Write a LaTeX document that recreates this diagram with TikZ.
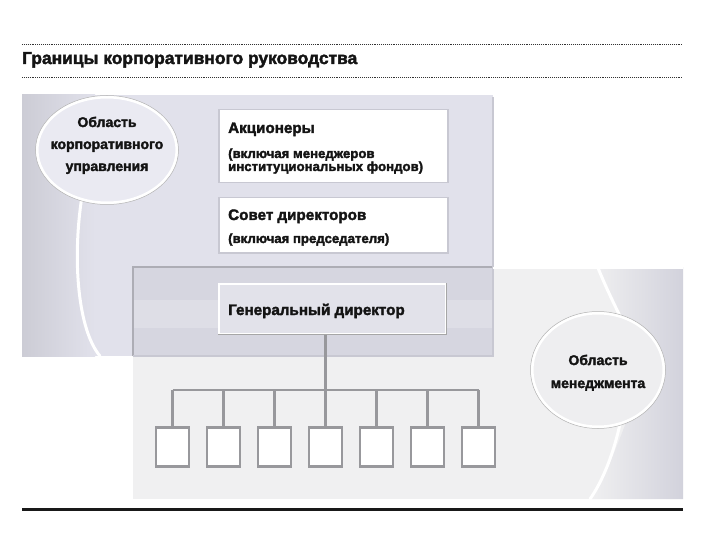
\documentclass[tikz,border=0pt]{standalone}
\usepackage{fontspec}
\setmainfont{Liberation Sans}
\newfontfamily\heavy{Liberation Sans}[FakeBold=2.2]
\usetikzlibrary{calc,shapes.geometric}
\definecolor{upperc}{RGB}{225,225,235}
\definecolor{upperdark}{RGB}{204,204,213}
\definecolor{lowerc}{RGB}{240,240,241}
\definecolor{lowerdark}{RGB}{210,210,220}
\definecolor{overc}{RGB}{214,214,224}
\definecolor{overlight}{RGB}{222,222,230}
\definecolor{ceoc}{RGB}{226,226,234}
\definecolor{ellc}{RGB}{234,234,242}
\definecolor{ell2c}{RGB}{238,238,240}
\definecolor{linec}{RGB}{152,152,156}
\definecolor{boxline}{RGB}{200,200,210}
\definecolor{txt}{RGB}{20,20,20}
\tikzset{
  whitebox/.style={draw=boxline, line width=1.5pt, fill=white, minimum width=229pt, anchor=north west, inner sep=0pt},
  txtbold/.style={font=\heavy\bfseries\fontsize{15.2}{16}\selectfont, text=txt, anchor=base west, inner sep=0pt},
  txtsmall/.style={font=\heavy\bfseries\fontsize{13.2}{13}\selectfont, text=txt, anchor=base west, inner sep=0pt},
  elltxt/.style={font=\heavy\bfseries\fontsize{14}{14}\selectfont, text=txt, anchor=base, inner sep=0pt},
  smallbox/.style={draw=linec, line width=2.6pt, fill=white, minimum width=33pt, minimum height=39pt, inner sep=0pt},
  conn/.style={draw=linec, line width=2.2pt},
  ellstyle/.style={ellipse, draw=white, line width=3pt, inner sep=0pt},
  whitecurve/.style={draw=white, line width=3pt, line cap=round},
}
\begin{document}
\begin{tikzpicture}[x=1pt, y=-1pt]
\useasboundingbox (0,0) rectangle (720,540);
\fill[white] (0,0) rectangle (720,540);
% title and rules
\draw[densely dotted, line width=0.9pt, draw=black!80] (22,44) -- (683,44);
\node[anchor=base west, inner sep=0pt, font=\heavy\bfseries\fontsize{17.4}{18}\selectfont, text=txt] (title) at (22,64) {Границы корпоративного руководства};
\draw[densely dotted, line width=0.9pt, draw=black!80] (22,77) -- (683,77);
% upper region
\fill[upperc] (22,95) rectangle (493,356);
\shade[left color=upperdark, right color=upperc] (22,95) rectangle (95,356);
% lower region
\fill[lowerc] (133,267) rectangle (683,499);
\begin{scope}
  \clip (598,267) .. controls (605,285) and (612,300) .. (620,314) -- (625,425) .. controls (612,460) and (600,485) .. (590,499) -- (683,499) -- (683,267) -- cycle;
  \shade[left color=lowerc, right color=lowerdark] (590,267) rectangle (683,499);
\end{scope}
% overlap
\fill[overc] (133,267) rectangle (493,356);
\fill[overlight] (133,300) rectangle (493,328);
\draw[draw=upperdark!85!black, line width=1.2pt] (133,356) -- (133,267) -- (493,267);
\draw[draw=boxline, line width=1.5pt] (493,97) -- (493,356) -- (133,356);
\draw[draw=white, line width=1.5pt] (493,268) -- (683,268);
% white curves
\draw[whitecurve] (82,196) .. controls (72,260) and (78,330) .. (100,356);
\draw[whitecurve] (598,268) .. controls (605,285) and (612,300) .. (620,316);
\draw[whitecurve] (620,424) .. controls (612,460) and (600,485) .. (590,499);
% ellipses
\node[ellstyle, fill=ellc, minimum width=140pt, minimum height=106pt] (govell) at (107,150) {};
\draw[draw=black!30, line width=0.5pt] (govell.center) ellipse [x radius=71.5pt, y radius=54.5pt];
\node[elltxt] (g1) at (107,127) {Область};
\node[elltxt] (g2) at (107,149) {корпоративного};
\node[elltxt] (g3) at (107,171) {управления};
\node[ellstyle, fill=ell2c, minimum width=132pt, minimum height=114pt] (mgmtell) at (598,370) {};
\draw[draw=black!30, line width=0.5pt] (mgmtell.center) ellipse [x radius=67.5pt, y radius=58.5pt];
\node[elltxt] (m1) at (598,365) {Область};
\node[elltxt] (m2) at (598,388) {менеджмента};
% boxes
\node[whitebox, minimum height=73pt] (sh) at (218,109) {};
\node[txtbold] (shT) at (228,133) {Акционеры};
\node[txtsmall] (shS1) at (228,158) {(включая менеджеров};
\node[txtsmall] (shS2) at (228,171) {институциональных фондов)};
\node[whitebox, minimum height=55pt] (bd) at (218,197) {};
\node[txtbold] (bdT) at (228,220) {Совет директоров};
\node[txtsmall] (bdS) at (228,243) {(включая председателя)};
\node[whitebox, fill=ceoc, draw=white, minimum height=50pt, minimum width=227pt] (ceo) at (218,283) {};
\draw[draw=black!35, line width=1.5pt] (ceo.north east) -- (ceo.south east) -- (ceo.south west);
\node[txtbold] (ceoT) at (228,315) {Генеральный директор};
% small boxes
\foreach \i in {1,...,7} {
  \node[smallbox] (b\i) at ({172.5+51*(\i-1)},447) {};
}
\coordinate (bus) at (325,390);
\draw[conn] (b4 |- ceo.south) -- (b4 |- bus);
\draw[conn] (b1.north |- bus) -- (b7.north |- bus);
\foreach \i in {1,...,7} {
  \draw[conn] (b\i.north |- bus) -- (b\i.north);
}
% bottom rule
\draw[line width=3pt, draw=black!90] (22,509) -- (683,509);
\end{tikzpicture}
\end{document}
